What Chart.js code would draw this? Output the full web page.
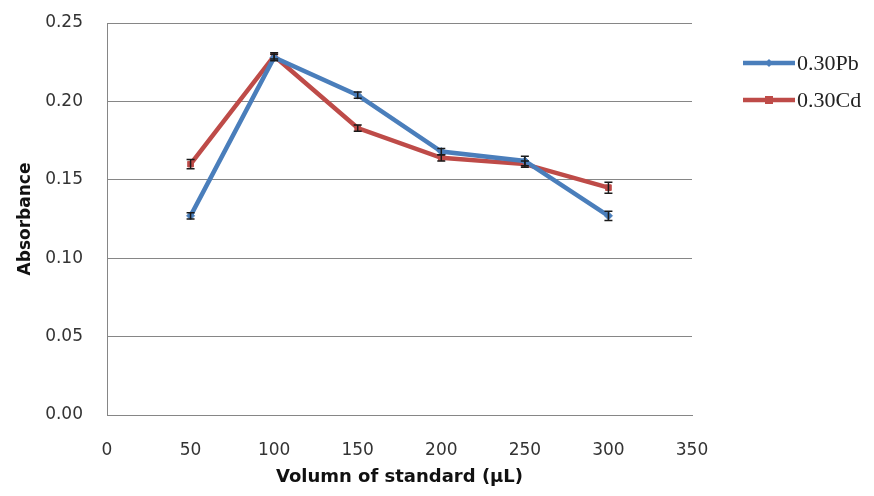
<!DOCTYPE html>
<html>
<head>
<meta charset="utf-8">
<script src="https://cdn.jsdelivr.net/npm/chart.js@4.4.1/dist/chart.umd.min.js"></script>
<style>
    html, body { margin: 0; padding: 0; background: #fff; }
    #wrap { width: 874px; height: 496px; }
</style>
</head>
<body>
<div id="wrap"><canvas id="chartAbsorbancia" width="874" height="496"></canvas></div>
<script>
const volumenes = [50, 100, 150, 200, 250, 300];
const absPb = [0.127, 0.228, 0.204, 0.168, 0.162, 0.127];
const absCd = [0.160, 0.229, 0.183, 0.164, 0.160, 0.145];
const errPb = [0.002, 0.002, 0.002, 0.002, 0.003, 0.003];
const errCd = [0.003, 0.002, 0.002, 0.002, 0.002, 0.0035];
const ticksX = [0, 50, 100, 150, 200, 250, 300, 350];
const ticksY = [0, 0.05, 0.10, 0.15, 0.20, 0.25];
const series = ['0.30Pb', '0.30Cd'];

const azul = '#4A7EBB';
const rojo = '#BE4B48';

function puntos(valores) {
    return volumenes.map((v, i) => ({ x: v, y: valores[i] }));
}

// barras de error (como en Excel)
const barrasError = {
    id: 'barrasError',
    afterDatasetsDraw(chart) {
        const ctx = chart.ctx;
        const y = chart.scales.y;
        chart.data.datasets.forEach((ds, d) => {
            const meta = chart.getDatasetMeta(d);
            ctx.save();
            ctx.strokeStyle = '#1a1a1a';
            ctx.lineWidth = 1.5;
            meta.data.forEach((pt, i) => {
                const v = ds.data[i].y;
                const e = ds.errores[i];
                const y1 = y.getPixelForValue(v + e);
                const y2 = y.getPixelForValue(v - e);
                ctx.beginPath();
                ctx.moveTo(pt.x, y1); ctx.lineTo(pt.x, y2);
                ctx.moveTo(pt.x - 4, y1); ctx.lineTo(pt.x + 4, y1);
                ctx.moveTo(pt.x - 4, y2); ctx.lineTo(pt.x + 4, y2);
                ctx.stroke();
            });
            ctx.restore();
        });
    }
};

// leyenda a la derecha, estilo Excel
const leyenda = {
    id: 'leyenda',
    afterDraw(chart) {
        const ctx = chart.ctx;
        const x0 = chart.chartArea.right + 51;
        chart.data.datasets.forEach((ds, d) => {
            const yy = 63 + d * 37;
            ctx.save();
            ctx.strokeStyle = ds.borderColor;
            ctx.lineWidth = 4.5;
            ctx.beginPath();
            ctx.moveTo(x0, yy); ctx.lineTo(x0 + 52, yy);
            ctx.stroke();
            ctx.fillStyle = ds.borderColor;
            if (ds.pointStyle === 'rect') {
                ctx.fillRect(x0 + 22, yy - 4, 8, 8);
            } else {
                ctx.beginPath();
                ctx.moveTo(x0 + 26, yy - 4); ctx.lineTo(x0 + 30, yy);
                ctx.lineTo(x0 + 26, yy + 4); ctx.lineTo(x0 + 22, yy);
                ctx.closePath(); ctx.fill();
            }
            ctx.fillStyle = '#222';
            ctx.font = '22px "Liberation Serif", serif';
            ctx.textBaseline = 'middle';
            ctx.fillText(ds.label, x0 + 54, yy + 1);
            ctx.restore();
        });
    }
};

const ctx = document.getElementById('chartAbsorbancia');
new Chart(ctx, {
    type: 'line',
    data: {
        datasets: [{
            label: series[0],
            data: puntos(absPb),
            errores: errPb,
            borderColor: azul,
            backgroundColor: azul,
            borderWidth: 4.5,
            pointStyle: 'rectRot',
            pointRadius: 4,
            pointBorderWidth: 1,
            tension: 0
        }, {
            label: series[1],
            data: puntos(absCd),
            errores: errCd,
            borderColor: rojo,
            backgroundColor: rojo,
            borderWidth: 4.5,
            pointStyle: 'rect',
            pointRadius: 4,
            pointBorderWidth: 1,
            tension: 0
        }]
    },
    options: {
        responsive: false,
        animation: false,
        layout: {
            padding: { left: 0, top: 23, right: 182, bottom: 0 }
        },
        scales: {
            x: {
                type: 'linear',
                min: 0,
                max: 350,
                afterBuildTicks: s => { s.ticks = ticksX.map(v => ({ value: v })); },
                afterFit: s => { s.height = 81; },
                grid: { display: false, drawTicks: false },
                border: { display: true, color: '#868686', width: 1 },
                ticks: {
                    padding: 25,
                    color: '#333',
                    maxRotation: 0,
                    font: { family: '"DejaVu Sans", sans-serif', size: 17 }
                },
                title: {
                    display: true,
                    text: 'Volumn of standard (µL)',
                    color: '#111',
                    padding: { top: 0, bottom: 8 },
                    font: { family: '"DejaVu Sans", sans-serif', size: 18, weight: 'bold' }
                }
            },
            y: {
                min: 0,
                max: 0.25,
                afterBuildTicks: s => { s.ticks = ticksY.map(v => ({ value: v })); },
                afterFit: s => { s.width = 107; s.paddingTop = 0; s.paddingBottom = 0; },
                grid: { color: '#868686', lineWidth: 1, drawTicks: false },
                border: { display: true, color: '#868686', width: 1 },
                ticks: {
                    padding: 24,
                    color: '#333',
                    callback: v => v.toFixed(2),
                    font: { family: '"DejaVu Sans", sans-serif', size: 17 }
                },
                title: {
                    display: true,
                    text: 'Absorbance',
                    color: '#111',
                    padding: { top: 15, bottom: 0 },
                    font: { family: '"DejaVu Sans", sans-serif', size: 17, weight: 'bold' }
                }
            }
        },
        plugins: {
            legend: { display: false },
            tooltip: { enabled: false }
        }
    },
    plugins: [barrasError, leyenda]
});
</script>
</body>
</html>
